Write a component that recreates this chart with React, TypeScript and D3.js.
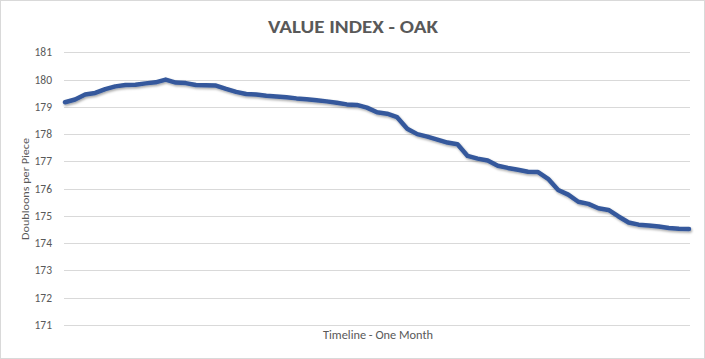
import React from "react";
import * as d3 from "d3";

const title = "VALUE INDEX - OAK";
const yTitle = "Doubloons per Piece";
const xTitle = "Timeline - One Month";
const yTicks = [171, 172, 173, 174, 175, 176, 177, 178, 179, 180, 181];
const values = [
  179.17, 179.27, 179.45, 179.51, 179.65, 179.75, 179.8, 179.81, 179.86, 179.9,
  180.0, 179.89, 179.87, 179.8, 179.79, 179.78, 179.66, 179.55, 179.47, 179.45,
  179.41, 179.38, 179.35, 179.31, 179.28, 179.24, 179.2, 179.15, 179.09, 179.07,
  178.97, 178.8, 178.75, 178.62, 178.2, 178.0, 177.91, 177.8, 177.69, 177.63,
  177.2, 177.1, 177.03, 176.84, 176.76, 176.69, 176.62, 176.61, 176.36, 175.95,
  175.78, 175.52, 175.44, 175.28, 175.22, 174.98, 174.76, 174.68, 174.65, 174.61,
  174.56, 174.53, 174.52,
];

export default function App() {
  const W = 705, H = 359;
  const left = 64, right = 690, top = 52.3, bottom = 325;
  const x = d3.scaleLinear().domain([0, values.length - 1]).range([left + 1, right - 1]);
  const y = d3.scaleLinear().domain([171, 181]).range([bottom, top]);
  const line = d3.line<number>().x((_, i) => x(i)).y((d) => y(d)).curve(d3.curveLinear);
  const grey = "#595959";
  const font = "Carlito, Calibri, 'Open Sans', sans-serif";
  return (
    <svg width={W} height={H} style={{ position: "absolute", left: 0, top: 0, background: "#fff" }} fontFamily={font}>
      <defs>
        <filter id="sh" x="-5%" y="-20%" width="110%" height="140%">
          <feDropShadow dx="1" dy="1.5" stdDeviation="1.2" floodColor="#000" floodOpacity="0.35" />
        </filter>
      </defs>
      <rect x={0.5} y={0.5} width={W - 1} height={H - 1} fill="#fff" stroke="#d9d9d9" />
      <text x={353} y={33} textAnchor="middle" fontSize={19} fontWeight="bold" fill={grey}
        textLength={170} lengthAdjust="spacingAndGlyphs">{title}</text>
      {yTicks.map((t) => (
        <g key={t}>
          <line x1={left} x2={right} y1={Math.round(y(t)) + 0.5} y2={Math.round(y(t)) + 0.5} stroke="#d9d9d9" strokeWidth={1} />
          <text x={52} y={y(t) + 4} textAnchor="end" fontSize={11.5} fill={grey}>{t}</text>
        </g>
      ))}
      <text transform={`translate(29,189) rotate(-90)`} textAnchor="middle" fontSize={11} fill={grey}
        textLength={102} lengthAdjust="spacingAndGlyphs">{yTitle}</text>
      <text x={378} y={339} textAnchor="middle" fontSize={12} fill={grey}
        textLength={110} lengthAdjust="spacingAndGlyphs">{xTitle}</text>
      <path d={line(values) || ""} fill="none" stroke="#35599c" strokeWidth={4.5}
        strokeLinejoin="round" strokeLinecap="round" filter="url(#sh)" />
    </svg>
  );
}
